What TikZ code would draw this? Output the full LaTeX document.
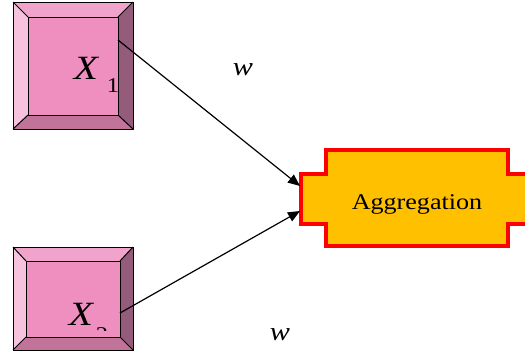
\documentclass[tikz,border=0pt]{standalone}
\usepackage{fontspec}
\setmainfont[FakeStretch=1.16]{Liberation Serif}
\usetikzlibrary{arrows.meta}
\definecolor{bevelL}{HTML}{F6C2DE}
\definecolor{bevelT}{HTML}{F0A3CB}
\definecolor{faceC}{HTML}{EE8FC0}
\definecolor{bevelR}{HTML}{955B7A}
\definecolor{bevelB}{HTML}{C27399}
\definecolor{aggfill}{HTML}{FFC000}
\definecolor{aggedge}{HTML}{FF0000}
\tikzset{
  bevel/.style={draw=black, line width=1pt, line join=miter},
  link/.style={draw=black, line width=1.2pt, -{Triangle[length=12pt,width=10pt]}},
  weight/.style={font=\fontsize{26}{26}\selectfont\itshape, inner sep=0pt},
  varname/.style={font=\fontsize{34}{34}\selectfont\itshape, inner sep=0pt},
  varsub/.style={font=\fontsize{21}{21}\selectfont, inner sep=0pt},
  aggtext/.style={font=\fontsize{22.5}{22.5}\selectfont, inner sep=0pt}
}
% bevelled square button: outer corners (#1,#2)-(#3,#4), inner face (#5,#6)-(#7,#8)
\newcommand{\bevelbox}[8]{%
  \fill[bevelT] (#1,#2) -- (#3,#2) -- (#7,#6) -- (#5,#6) -- cycle;
  \fill[bevelL] (#1,#2) -- (#5,#6) -- (#5,#8) -- (#1,#4) -- cycle;
  \fill[bevelR] (#3,#2) -- (#3,#4) -- (#7,#8) -- (#7,#6) -- cycle;
  \fill[bevelB] (#1,#4) -- (#3,#4) -- (#7,#8) -- (#5,#8) -- cycle;
  \fill[faceC] (#5,#6) rectangle (#7,#8);
  \draw[bevel] (#1,#2) rectangle (#3,#4);
  \draw[bevel] (#5,#6) rectangle (#7,#8);
  \draw[bevel] (#1,#2) -- (#5,#6) (#3,#2) -- (#7,#6)
               (#1,#4) -- (#5,#8) (#3,#4) -- (#7,#8);
}
\begin{document}
\begin{tikzpicture}[x=1pt,y=-1pt]
\useasboundingbox (0,0) rectangle (525,354);

% input buttons
\bevelbox{13}{2}{133}{129}{28}{17}{118}{115}
\node[minimum width=90pt, minimum height=98pt, inner sep=0pt] (box1) at (73,66) {};
\bevelbox{13}{247}{133}{350}{26}{261}{120}{337}
\node[minimum width=94pt, minimum height=76pt, inner sep=0pt] (box2) at (73,299) {};

\node[varname, anchor=base] (x1) at (86,79) {X};
\node[varsub, anchor=base] (x1s) at (113,92) {1};
\node[varname, anchor=base] (x2) at (81,325) {X};
\begin{scope}
  \clip (95,326) rectangle (112,330);
  \node[varsub, anchor=base] (x2s) at (102,341) {2};
\end{scope}

% aggregation block
\draw[fill=aggfill, draw=aggedge, line width=4pt, line join=miter]
  (326,150) -- (508,150) -- (508,174) -- (532,174) -- (532,224) -- (508,224)
  -- (508,246) -- (326,246) -- (326,224) -- (301,224) -- (301,174) -- (326,174) -- cycle;
\node[aggtext, anchor=base] (agg) at (417,209) {Aggregation};

% connectors
\coordinate (src1) at (118,40);
\coordinate (src2) at (120,313);
\coordinate (dst1) at (300,186);
\coordinate (dst2) at (300,211);
\draw[link] (src1) -- (dst1);
\draw[link] (src2) -- (dst2);

% weights (glyph tops trimmed)
\begin{scope}
  \clip (220,63) rectangle (270,90);
  \node[weight, anchor=base] (w1) at (243,75) {w};
\end{scope}
\begin{scope}
  \clip (260,326) rectangle (300,354);
  \node[weight, anchor=base] (w2) at (280,340) {w};
\end{scope}
\end{tikzpicture}
\end{document}
